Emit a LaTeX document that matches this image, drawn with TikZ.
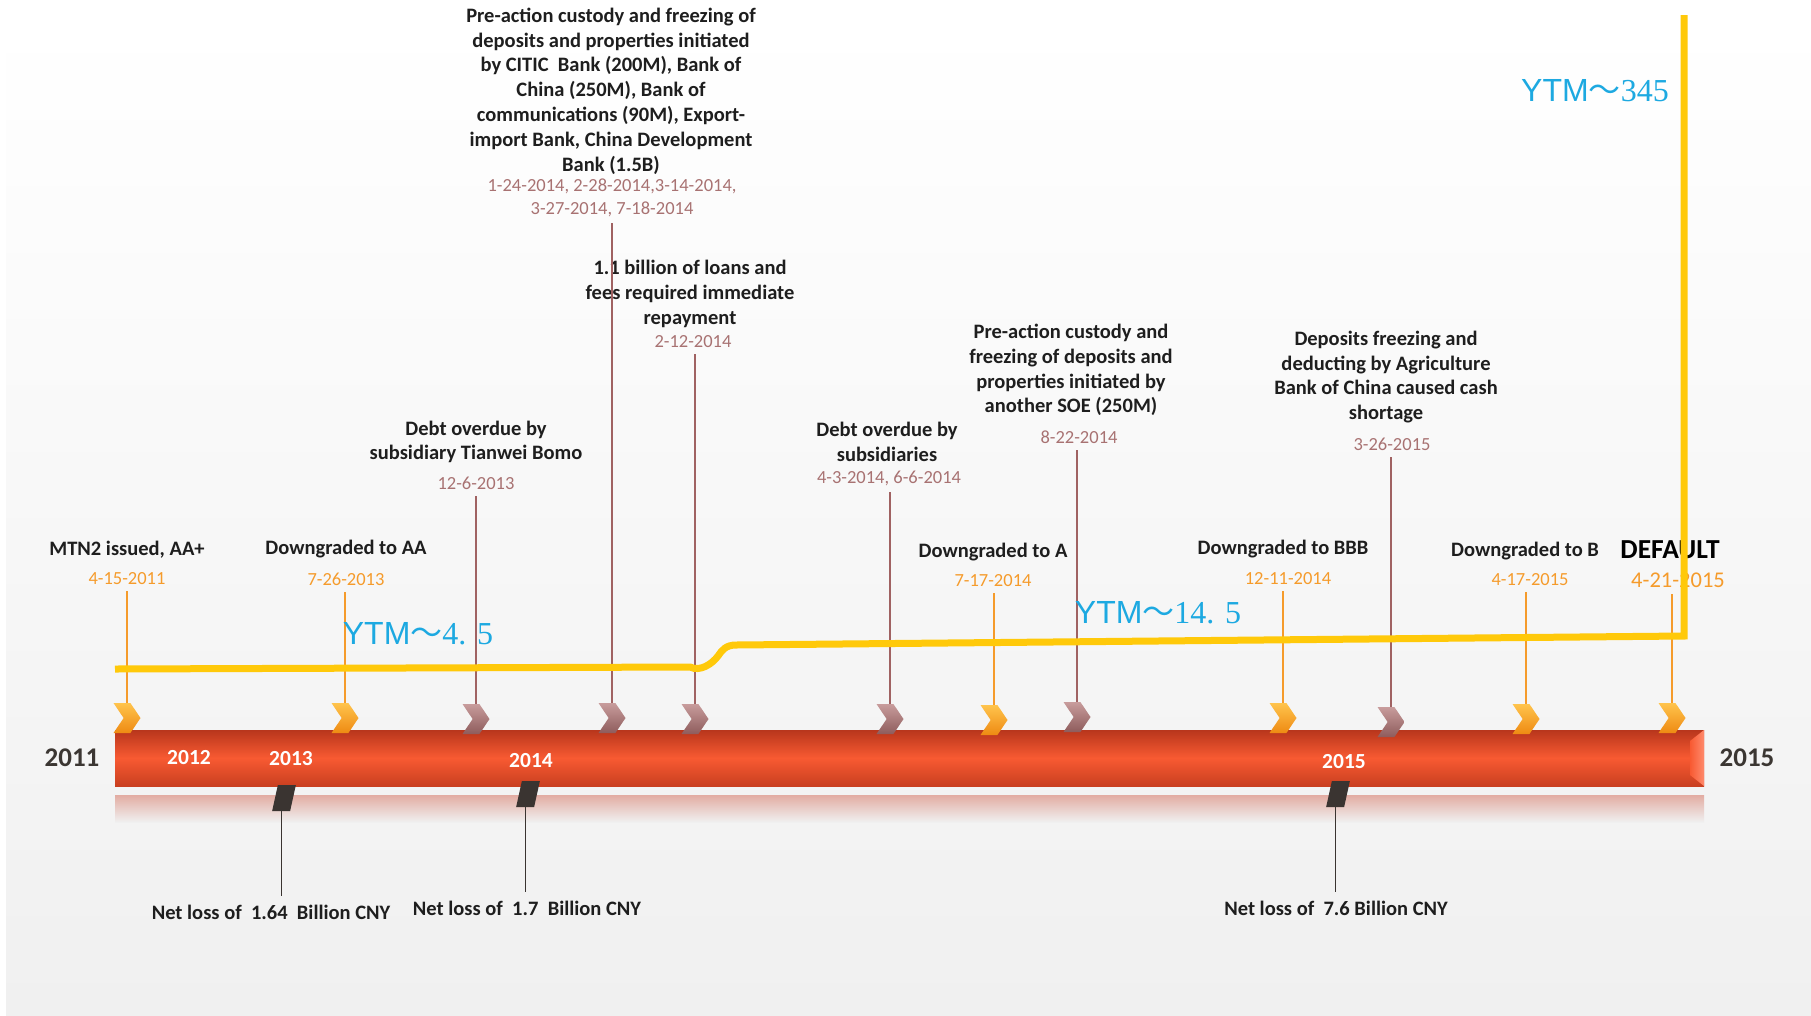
\documentclass[tikz,border=0pt]{standalone}
\usepackage{fontspec}
\setmainfont{Carlito}
\newfontfamily\ytmsans{Liberation Sans}
\newfontfamily\ytmserif{Liberation Serif}
\newfontfamily\cjkfont{Noto Sans CJK SC}
\usetikzlibrary{positioning,shapes.symbols}

\definecolor{bgLow}{HTML}{F0F0F0}
\definecolor{barTop}{HTML}{B8361C}
\definecolor{barMid}{HTML}{F85A32}
\definecolor{barBot}{HTML}{C93F20}
\definecolor{barEdge}{HTML}{FF8A6C}
\definecolor{glow}{HTML}{E2ACA2}
\definecolor{rateOrange}{HTML}{F59B2B}
\definecolor{rateHi}{HTML}{FFC44D}
\definecolor{rateLo}{HTML}{EE8A12}
\definecolor{eventRose}{HTML}{A06262}
\definecolor{eventHi}{HTML}{C89C9C}
\definecolor{eventLo}{HTML}{8E5C5C}
\definecolor{eventDate}{HTML}{A87272}
\definecolor{lossMark}{HTML}{3A3431}
\definecolor{ytmYellow}{HTML}{FFC90A}
\definecolor{ytmBlue}{HTML}{1DA9E1}
\definecolor{yearGray}{HTML}{3B3632}
\definecolor{labelInk}{HTML}{1E1E1E}

\newcommand{\ytmlabel}[1]{{\ytmsans YTM}{\cjkfont ～}{\ytmserif #1}}

\tikzset{
  headline/.style={inner sep=0pt, align=center, text=labelInk, font=\fontsize{20.5}{24.8}\selectfont\bfseries},
  ratedate/.style={inner sep=0pt, align=center, text=rateOrange, font=\fontsize{18.5}{23}\selectfont},
  eventdate/.style={inner sep=0pt, align=center, text=eventDate, font=\fontsize{18.5}{23}\selectfont},
  ratechev/.style={signal, signal to=east, signal from=west, signal pointer angle=112, minimum width=27pt, minimum height=30pt, inner sep=0pt, top color=rateHi, bottom color=rateLo},
  eventchev/.style={ratechev, top color=eventHi, bottom color=eventLo},
  lossmark/.style={rectangle, xslant=0.22, minimum width=18pt, minimum height=26pt, inner sep=0pt, fill=lossMark},
  rateline/.style={draw=rateOrange, line width=1.4pt, shorten >=6pt},
  eventline/.style={draw=eventRose, line width=1.2pt, shorten >=6pt},
  lossline/.style={draw=lossMark, line width=1.2pt, shorten >=9pt},
  yearout/.style={inner sep=0pt, text=yearGray, font=\fontsize{27}{30}\selectfont\bfseries},
  yearin/.style={inner sep=0pt, text=white, font=\fontsize{21.5}{24}\selectfont\bfseries},
  ytm/.style={inner sep=0pt, text=ytmBlue, font=\fontsize{32}{36}\selectfont},
  ytmline/.style={draw=ytmYellow, line width=7pt}
}

\begin{document}
\begin{tikzpicture}[x=1pt, y=-1pt]
    \useasboundingbox (0,0) rectangle (1811,1015);
    \fill[white] (0,0) rectangle (1811,1015);
    \shade[top color=white, bottom color=bgLow] (6,20) rectangle (1811,1015);

    \shade[top color=glow, bottom color=bgLow] (115,795) rectangle (1704,822);
    \shade[top color=barTop, bottom color=barBot, middle color=barMid] (115,730) rectangle (1704,786);
    \shade[left color=barMid, right color=barEdge] (1690,741) -- (1704,730) -- (1704,786) -- (1690,775) -- cycle;

    \node[yearout] (year2011) at (72,758) {2011};
    \node[yearout] (year2015) at (1747,758) {2015};
    \node[yearin] (in2012) at (189,758) {2012};
    \node[yearin] (in2013) at (291,759) {2013};
    \node[yearin] (in2014) at (531,761) {2014};
    \node[yearin] (in2015) at (1344,762) {2015};

    \node[headline] (mtn) at (127,550) {MTN2 issued, AA+};
    \node[ratedate] (mtnDate) at (127,579) {4-15-2011};
    \node[headline] (toAA) at (346,549) {Downgraded to AA};
    \node[ratedate] (toAADate) at (346,579) {7-26-2013};
    \node[headline] (tianwei) at (476,442) {Debt overdue by\\subsidiary Tianwei Bomo};
    \node[eventdate] (tianweiDate) at (476,483) {12-6-2013};
    \node[headline] (preAction) at (611,91) {Pre-action custody and freezing of\\deposits and properties initiated\\by CITIC\ \ Bank (200M), Bank of\\China (250M), Bank of\\communications (90M), Export-\\import Bank, China Development\\Bank (1.5B)};
    \node[eventdate] (preActionDate) at (612,198) {1-24-2014, 2-28-2014,3-14-2014,\\3-27-2014, 7-18-2014};
    \node[headline] (loans) at (690,294) {1.1 billion of loans and\\fees required immediate\\repayment};
    \node[eventdate] (loansDate) at (693,342) {2-12-2014};
    \node[headline] (subsid) at (887,442) {Debt overdue by\\subsidiaries};
    \node[eventdate] (subsidDate) at (889,478) {4-3-2014, 6-6-2014};
    \node[headline] (toA) at (993,552) {Downgraded to A};
    \node[ratedate] (toADate) at (993,581) {7-17-2014};
    \node[headline] (soe) at (1071,370) {Pre-action custody and\\freezing of deposits and\\properties initiated by\\another SOE (250M)};
    \node[eventdate] (soeDate) at (1079,437) {8-22-2014};
    \node[headline] (agri) at (1386,377) {Deposits freezing and\\deducting by Agriculture\\Bank of China caused cash\\shortage};
    \node[eventdate] (agriDate) at (1392,444) {3-26-2015};
    \node[headline] (toBBB) at (1283,549) {Downgraded to BBB};
    \node[ratedate] (toBBBDate) at (1288,579) {12-11-2014};
    \node[headline] (toB) at (1525,551) {Downgraded to B};
    \node[ratedate] (toBDate) at (1530,580) {4-17-2015};
    \node[inner sep=0pt, text=black, font=\fontsize{27.5}{30}\selectfont\bfseries] (dflt) at (1670,550) {DEFAULT};
    \node[ratedate, font=\fontsize{22.5}{25}\selectfont] (dfltDate) at (1678,580) {4-21-2015};

    \node[ratechev] (chMtn) at (127,718) {};
    \node[ratechev] (chAA) at (345,718) {};
    \node[eventchev] (chTianwei) at (476,719) {};
    \node[eventchev] (chPre) at (612,718) {};
    \node[eventchev] (chLoans) at (695,719) {};
    \node[eventchev] (chSubsid) at (890,719) {};
    \node[ratechev] (chToA) at (994,720) {};
    \node[eventchev] (chSoe) at (1077,717) {};
    \node[ratechev] (chBBB) at (1283,718) {};
    \node[eventchev] (chAgri) at (1391,722) {};
    \node[ratechev] (chB) at (1526,719) {};
    \node[ratechev] (chDflt) at (1672,718) {};

    \draw[rateline] (chMtn.north) -- (chMtn.north |- mtnDate.south);
    \draw[rateline] (chAA.north) -- (chAA.north |- toAADate.south);
    \draw[eventline] (chTianwei.north) -- (chTianwei.north |- tianweiDate.south);
    \draw[eventline] (chPre.north) -- (chPre.north |- preActionDate.south);
    \draw[eventline] (chLoans.north) -- (chLoans.north |- loansDate.south);
    \draw[eventline] (chSubsid.north) -- (chSubsid.north |- subsidDate.south);
    \draw[rateline] (chToA.north) -- (chToA.north |- toADate.south);
    \draw[eventline] (chSoe.north) -- (chSoe.north |- soeDate.south);
    \draw[rateline] (chBBB.north) -- (chBBB.north |- toBBBDate.south);
    \draw[eventline] (chAgri.north) -- (chAgri.north |- agriDate.south);
    \draw[rateline] (chB.north) -- (chB.north |- toBDate.south);
    \draw[rateline] (chDflt.north) -- (chDflt.north |- dfltDate.south);

    \node[lossmark] (mk13) at (284,798) {};
    \node[lossmark] (mk14) at (528,794) {};
    \node[lossmark] (mk15) at (1338,794) {};
    \node[headline] (loss13) at (271,912) {Net loss of\ \ 1.64\ \ Billion CNY};
    \node[headline] (loss14) at (527,908) {Net loss of\ \ 1.7\ \ Billion CNY};
    \node[headline] (loss15) at (1336,908) {Net loss of\ \ 7.6 Billion CNY};
    \draw[lossline] (mk13.south) -- (mk13.south |- loss13.north);
    \draw[lossline] (mk14.south) -- (mk14.south |- loss14.north);
    \draw[lossline] (mk15.south) -- (mk15.south |- loss15.north);

    \draw[ytmline] (115,669) -- (690,667) .. controls (700,672) and (712,664) .. (718,656) .. controls (722,650) and (726,645) .. (736,645) -- (1684,636) -- (1684,15);
    \node[ytm] (ytmLow) at (418,634) {\ytmlabel{4. 5}};
    \node[ytm] (ytmMid) at (1158,613) {\ytmlabel{14. 5}};
    \node[ytm] (ytmHigh) at (1595,91) {\ytmlabel{345}};
\end{tikzpicture}
\end{document}
